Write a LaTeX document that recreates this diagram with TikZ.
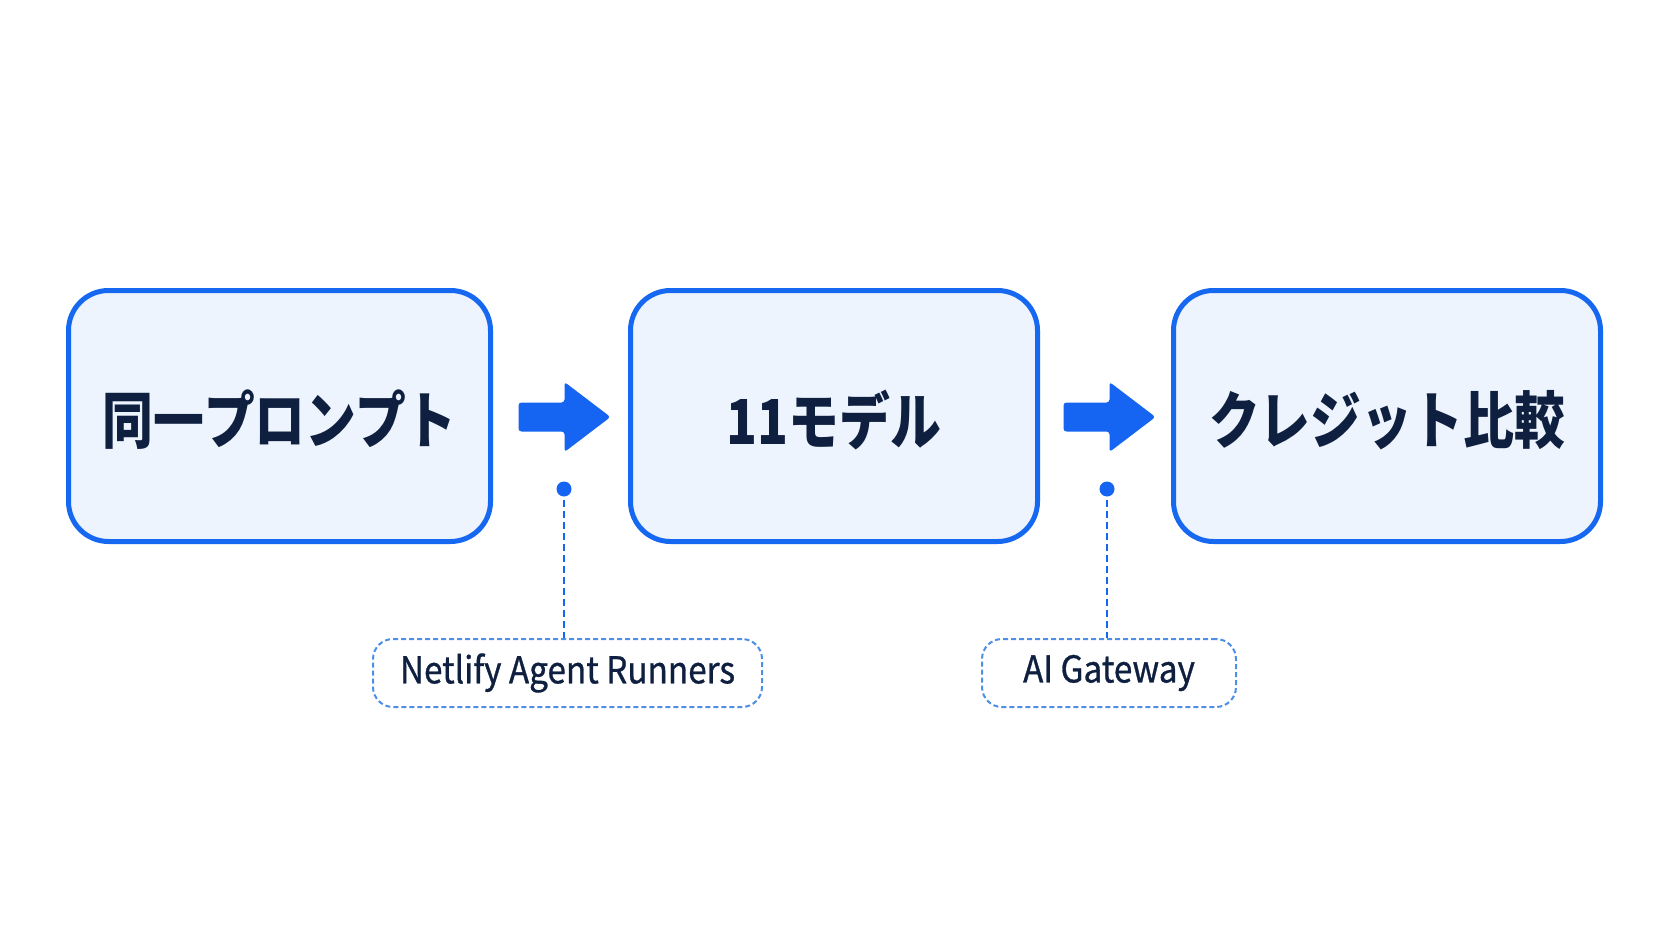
\documentclass[tikz,border=0pt]{standalone}
\usepackage{fontspec}
\newfontfamily\jpfont{Noto Sans CJK JP}[FakeStretch=0.82]
\newfontfamily\latfont{Noto Sans CJK JP}[FakeStretch=0.9, FakeBold=0.8]
\usetikzlibrary{calc}
\definecolor{bblue}{HTML}{1668F0}
\definecolor{bfill}{HTML}{EDF4FD}
\definecolor{navy}{HTML}{0E1F3F}
\definecolor{ablue}{HTML}{1565F2}
\definecolor{lblue}{HTML}{4D8FE6}
\tikzset{
  mainbox/.style={draw=bblue, line width=5pt, fill=bfill, rounded corners=40pt,
    minimum height=251pt, text=navy, inner sep=0pt, text depth=-4pt,
    font=\jpfont\bfseries\fontsize{62}{62}\selectfont},
  labelbox/.style={draw=lblue, line width=2pt, dash pattern=on 5pt off 3pt,
    fill=white, rounded corners=20pt, minimum height=68pt, text=navy, inner sep=0pt,
    font=\latfont\fontsize{37}{37}\selectfont},
  leader/.style={draw=ablue, line width=2pt, dash pattern=on 7pt off 4pt},
  dotmark/.style={fill=ablue},
  blockarrow/.pic={
    \fill[ablue, rounded corners=3pt] (0,-14.5) -- (46,-14.5) -- (46,-35) -- (92,0)
      -- (46,35) -- (46,14.5) -- (0,14.5) -- cycle;
  }
}
\begin{document}
\begin{tikzpicture}[x=1pt,y=-1pt]
\useasboundingbox[fill=white] (0,0) rectangle (1672,941);
\node[mainbox, minimum width=422pt] (b1) at (279.5,416) {\raisebox{-2pt}{同一プロンプト}};
\node[mainbox, minimum width=407pt] (b2) at (834,416) {\raisebox{-2pt}{11モデル}};
\node[mainbox, minimum width=427pt] (b3) at (1387,416) {\raisebox{-2pt}{クレジット比較}};
\pic at ($(b1.east)+(25.5,1)$) {blockarrow};
\pic at ($(b2.east)+(23.5,1)$) {blockarrow};
\node[labelbox, minimum width=389pt] (l1) at (567.5,673) {\raisebox{-4pt}{Netlify Agent Runners}};
\node[labelbox, minimum width=254pt] (l2) at (1109,673) {\raisebox{-4pt}{AI Gateway}};
\coordinate (d1) at (564,489);
\coordinate (d2) at (1107,489);
\draw[leader] (d1) -- (d1 |- l1.north);
\draw[leader] (d2) -- (d2 |- l2.north);
\fill[dotmark] (d1) circle (7.5);
\fill[dotmark] (d2) circle (7.5);
\end{tikzpicture}
\end{document}
